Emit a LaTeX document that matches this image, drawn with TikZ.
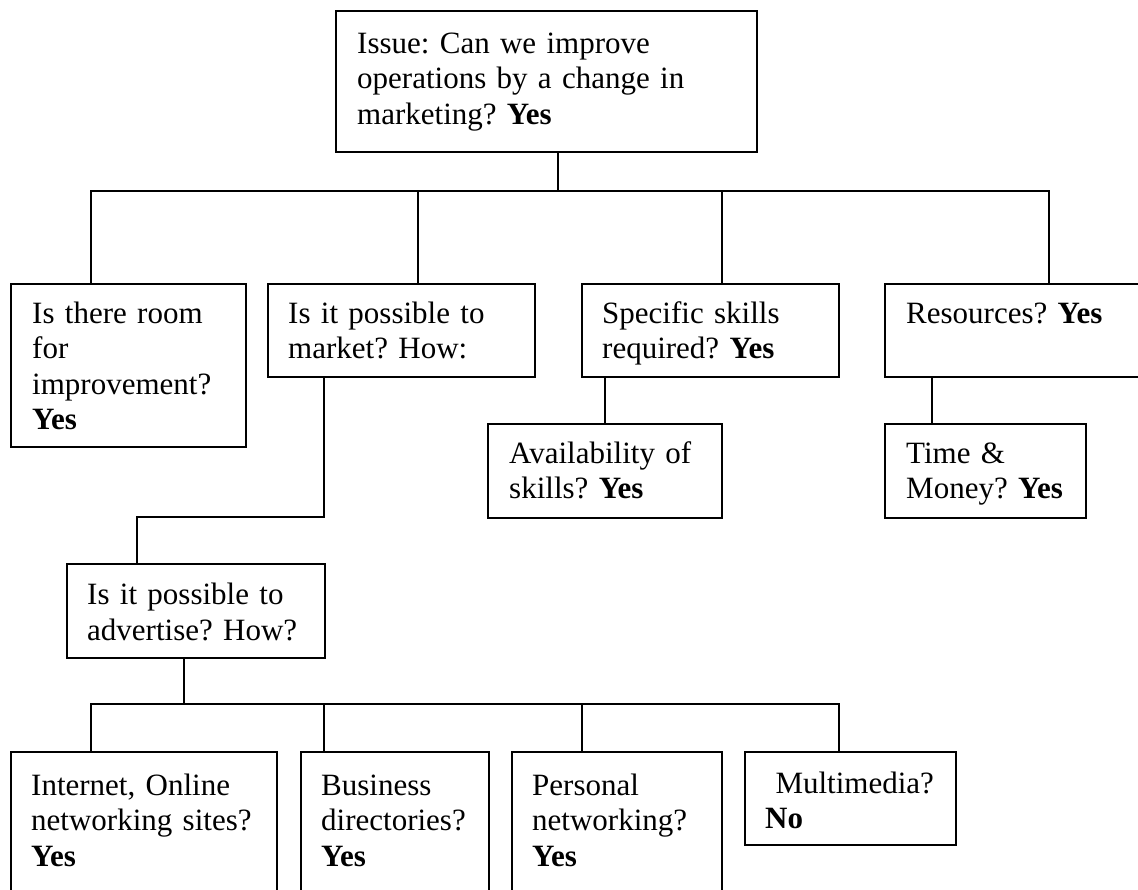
\documentclass[tikz,border=0pt]{standalone}
\usepackage{fontspec}
\setmainfont{Liberation Serif}
\frenchspacing
\begin{document}
\begin{tikzpicture}[x=1pt,y=-1pt,
  box/.style={draw, line width=1.7pt, rectangle, inner sep=0pt, outer sep=0pt, anchor=north west},
  txt/.style={anchor=base west, inner sep=0pt, text width=420pt, align=left,
              font=\fontsize{31}{35.6}\selectfont\frenchspacing},
  link/.style={line width=1.7pt}]
\path[use as bounding box] (0,0) rectangle (1138,889);
\clip (0,0) rectangle (1138,889);
\fill[white] (0,0) rectangle (1138,889);

% boxes
\node[box, minimum width=421pt, minimum height=141pt] (b0) at (336,11) {};
\node[box, minimum width=235pt, minimum height=163pt] (b1) at (11,284) {};
\node[box, minimum width=267pt, minimum height=93pt]  (b2) at (268,284) {};
\node[box, minimum width=257pt, minimum height=93pt]  (b3) at (582,284) {};
\node[box, minimum width=300pt, minimum height=93pt]  (b4) at (885,284) {};
\node[box, minimum width=234pt, minimum height=94pt]  (b5) at (488,424) {};
\node[box, minimum width=201pt, minimum height=94pt]  (b6) at (885,424) {};
\node[box, minimum width=258pt, minimum height=94pt]  (b7) at (67,564) {};
\node[box, minimum width=266pt, minimum height=200pt] (b8) at (11,752) {};
\node[box, minimum width=188pt, minimum height=200pt] (b9) at (301,752) {};
\node[box, minimum width=210pt, minimum height=200pt] (b10) at (512,752) {};
\node[box, minimum width=211pt, minimum height=93pt]  (b11) at (745,752) {};

% texts
\node[txt] (t0) at (357,53.3) {Issue: Can we improve\\operations by a change in\\marketing? \textbf{Yes}};
\node[txt] (t1) at (32,323) {Is there room\\for\\improvement?\\\textbf{Yes}};
\node[txt] (t2) at (288,323) {Is it possible to\\market? How:};
\node[txt] (t3) at (602,323) {Specific skills\\required? \textbf{Yes}};
\node[txt] (t4) at (906,323) {Resources? \textbf{Yes}};
\node[txt] (t5) at (509,463) {Availability of\\skills? \textbf{Yes}};
\node[txt] (t6) at (906,463) {Time \&\\Money? \textbf{Yes}};
\node[txt] (t7) at (87,604.5) {Is it possible to\\advertise? How?};
\node[txt] (t8) at (31,795) {Internet, Online\\networking sites?\\\textbf{Yes}};
\node[txt] (t9) at (321,795) {Business\\directories?\\\textbf{Yes}};
\node[txt] (t10) at (532,795) {Personal\\networking?\\\textbf{Yes}};
\node[txt] (t11) at (765,793) {\ Multimedia?\\\textbf{No}};

% first level connectors
\coordinate (r0) at (558,191);
\coordinate (r1) at (91,191);
\coordinate (r2) at (418,191);
\coordinate (r3) at (722,191);
\coordinate (r4) at (1049,191);
\draw[link] (b0.south -| r0) -- (r0);
\draw[link] (b1.north -| r1) |- (r4) -- (b4.north -| r4);
\draw[link] (r2) -- (b2.north -| r2);
\draw[link] (r3) -- (b3.north -| r3);

% market -> advertise
\coordinate (m0) at (324,517);
\coordinate (m1) at (137,517);
\draw[link] (b2.south -| m0) -- (m0) -- (m1) -- (b7.north -| m1);

% skills and resources
\coordinate (s0) at (605,400);
\coordinate (s1) at (932,400);
\draw[link] (b3.south -| s0) -- (b5.north -| s0);
\draw[link] (b4.south -| s1) -- (b6.north -| s1);

% advertising channels
\coordinate (a0) at (184,704);
\coordinate (a1) at (91,704);
\coordinate (a2) at (324,704);
\coordinate (a3) at (582,704);
\coordinate (a4) at (839,704);
\draw[link] (b7.south -| a0) -- (a0);
\draw[link] (b8.north -| a1) |- (a4) -- (b11.north -| a4);
\draw[link] (a2) -- (b9.north -| a2);
\draw[link] (a3) -- (b10.north -| a3);
\end{tikzpicture}
\end{document}
